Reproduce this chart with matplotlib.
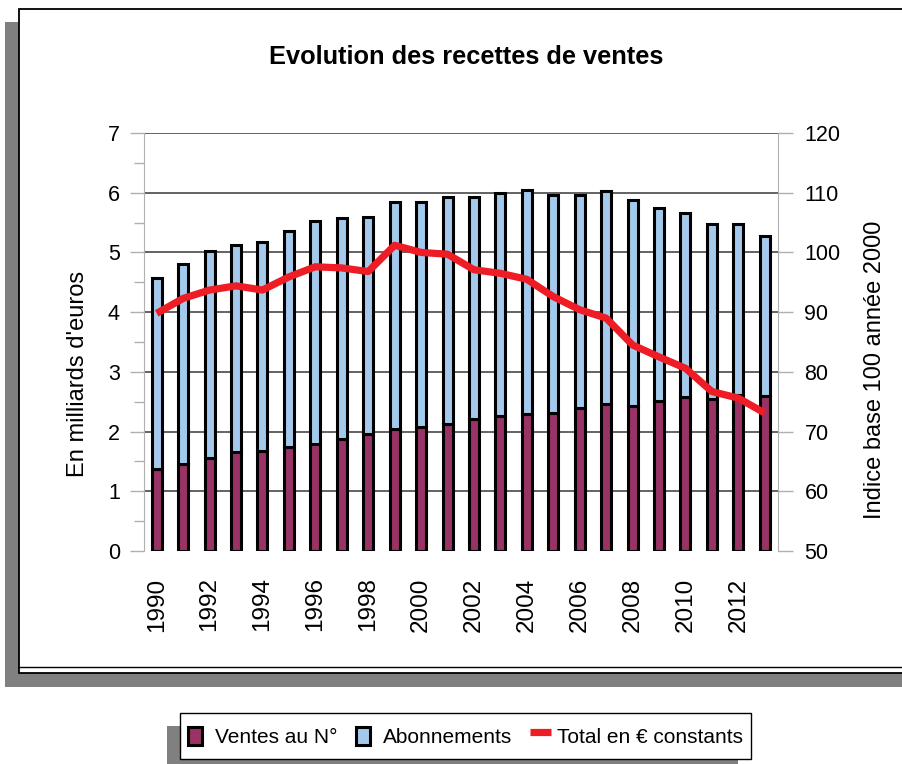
import matplotlib
matplotlib.use("Agg")
import matplotlib.pyplot as plt
from matplotlib.patches import Rectangle
from matplotlib.lines import Line2D
from matplotlib.legend_handler import HandlerPatch
import numpy as np

plt.rcParams['font.family'] = ['Liberation Sans', 'DejaVu Sans']

# ---- data ----
years = list(range(1990, 2014))
ventes_au_numero = [1.37, 1.46, 1.56, 1.65, 1.67, 1.75, 1.80, 1.87, 1.96, 2.05, 2.08, 2.13,
                    2.21, 2.26, 2.29, 2.31, 2.39, 2.47, 2.42, 2.51, 2.58, 2.55, 2.61, 2.60]
abonnements = [3.20, 3.35, 3.46, 3.47, 3.50, 3.61, 3.72, 3.70, 3.63, 3.79, 3.77, 3.80,
               3.71, 3.74, 3.76, 3.66, 3.58, 3.56, 3.45, 3.24, 3.08, 2.92, 2.86, 2.68]
total_constant_index = [89.8, 92.3, 93.7, 94.4, 93.7, 95.9, 97.6, 97.4, 96.8, 101.2, 100.0, 99.7,
                        97.1, 96.5, 95.5, 92.6, 90.4, 89.0, 84.5, 82.5, 80.6, 76.7, 75.6, 73.1]
year_tick_labels = [str(y) for y in range(1990, 2013, 2)]
left_ticks = [0, 1, 2, 3, 4, 5, 6, 7]
right_ticks = [50, 60, 70, 80, 90, 100, 110, 120]

title = "Evolution des recettes de ventes"
left_label = "En milliards d'euros"
right_label = "Indice base 100 année 2000"
legend_labels = ["Ventes au N°", "Abonnements", "Total en € constants"]

W, H = 903, 764
fig = plt.figure(figsize=(W / 100, H / 100), dpi=100)
fig.patch.set_facecolor('white')

def px(x0, y0, x1, y1):
    """pixel box (top-left origin) -> figure fraction rect"""
    return (x0 / W, 1 - y1 / H, (x1 - x0) / W, (y1 - y0) / H)

gray = '#808080'
# frame shadow
for (x0, y0, x1, y1) in [(5, 22, 19, 687), (5, 673, 903, 687)]:
    l, b, w, h = px(x0, y0, x1, y1)
    fig.patches.append(Rectangle((l, b), w, h, transform=fig.transFigure,
                                 facecolor=gray, edgecolor='none', zorder=-2))
# white frame
l, b, w, h = px(19, 9, 910, 673)
fig.patches.append(Rectangle((l, b), w, h, transform=fig.transFigure,
                             facecolor='white', edgecolor='black', lw=1.3, zorder=-1))
fig.add_artist(Line2D([19 / W, 1], [1 - 667 / H, 1 - 667 / H], transform=fig.transFigure,
                      color='black', lw=1.0, zorder=-0.5))

# axes
ax = fig.add_axes(px(143.5, 133, 778, 551))
ax.set_zorder(2)
ax.set_facecolor('none')
x = np.arange(len(years))
purple = '#993366'
blue = '#a3c9ec'
bw = 0.38
b1 = ax.bar(x, ventes_au_numero, width=bw, color=purple, edgecolor='black', lw=2.2,
            zorder=3, label=legend_labels[0])
b2 = ax.bar(x, abonnements, width=bw, bottom=ventes_au_numero, color=blue,
            edgecolor='black', lw=2.2, zorder=3, label=legend_labels[1])
ax.set_xlim(-0.5, len(years) - 0.5)
ax.set_ylim(0, 7)
ax.set_yticks(left_ticks)
ax.set_yticks(np.arange(0.5, 7, 1.0), minor=True)
ax.yaxis.grid(True, which='major', color='#484848', lw=1.2, zorder=0)
ax.get_ygridlines()[0].set_visible(False)
ax.set_axisbelow(True)
year_pos = [years.index(int(s)) for s in year_tick_labels]
ax.set_xticks(year_pos)
ax.set_xticklabels(year_tick_labels, rotation=90, fontsize=17.5)
ax.tick_params(axis='x', length=0, pad=19)
ax.tick_params(axis='y', which='major', length=10, width=1, color='#b0b0b0',
               labelsize=15.5, pad=7)
ax.tick_params(axis='y', which='minor', length=7, width=1, color='#b0b0b0')
for s in ['top', 'bottom', 'right']:
    ax.spines[s].set_visible(False)
ax.spines['left'].set_color('#b0b0b0')

ax2 = ax.twinx()
ax2.set_zorder(3)
ax2.set_facecolor('none')
ax2.set_ylim(50, 120)
ax2.set_yticks(right_ticks)
ln, = ax2.plot(x, total_constant_index, color='#ee1c24', lw=5.2, zorder=5,
               solid_capstyle='butt', solid_joinstyle='round', label=legend_labels[2])
ax2.tick_params(axis='y', length=11, width=1, color='#b0b0b0', labelsize=15.5, pad=8)
for s in ['top', 'bottom', 'left']:
    ax2.spines[s].set_visible(False)
ax2.spines['right'].set_color('#b0b0b0')

# texts
fig.text(466 / W, 1 - 57 / H, title, ha='center', va='center', fontsize=18.3, fontweight='bold')
fig.text(78 / W, 1 - 374 / H, left_label, ha='center', va='center', rotation=90, fontsize=17)
fig.text(875 / W, 1 - 370 / H, right_label, ha='center', va='center', rotation=90, fontsize=17)

# legend
def square(legend, orig_handle, xdescent, ydescent, width, height, fontsize):
    sw, sh = 10.0, 13.0
    return Rectangle((-xdescent, (height - sh) / 2 - ydescent), sw, sh)

handler = HandlerPatch(patch_func=square)
leg = fig.legend([b1.patches[0], b2.patches[0], ln], legend_labels,
                 loc='lower left', bbox_to_anchor=(180 / W, 5 / H), ncol=3,
                 fontsize=15, frameon=True, fancybox=False, edgecolor='black',
                 framealpha=1, facecolor='white',
                 handlelength=1.0, handleheight=1.8, handletextpad=0.3,
                 columnspacing=0.85, borderpad=0.4, borderaxespad=0,
                 handler_map={b1.patches[0]: handler, b2.patches[0]: handler})
leg.get_frame().set_linewidth(1.0)
leg.set_zorder(10)

fig.canvas.draw()
bb = leg.get_window_extent()
fig.patches.append(Rectangle(((bb.x0 - 13) / W, (bb.y0 - 13) / H), bb.width / W, bb.height / H,
                             transform=fig.transFigure, facecolor=gray, edgecolor='none', zorder=1))

fig.savefig('out.png', dpi=100)
